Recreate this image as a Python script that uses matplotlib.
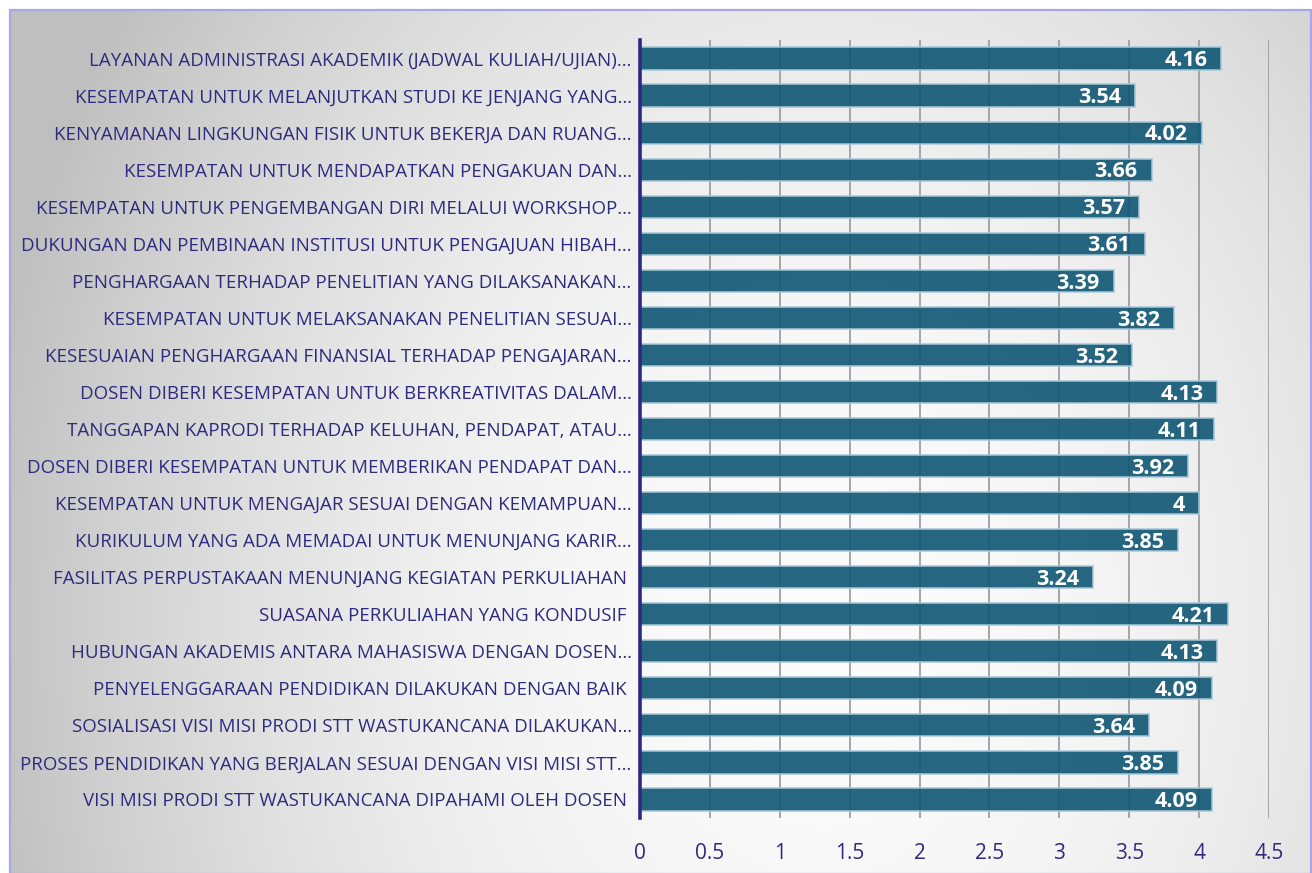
import matplotlib
matplotlib.use("Agg")
import matplotlib.pyplot as plt
import numpy as np
from matplotlib import font_manager as fm
from matplotlib.patches import Rectangle

categories = [
    "LAYANAN ADMINISTRASI AKADEMIK (JADWAL KULIAH/UJIAN)…",
    "KESEMPATAN UNTUK MELANJUTKAN STUDI KE JENJANG YANG…",
    "KENYAMANAN LINGKUNGAN FISIK UNTUK BEKERJA DAN RUANG…",
    "KESEMPATAN UNTUK MENDAPATKAN PENGAKUAN DAN…",
    "KESEMPATAN UNTUK PENGEMBANGAN DIRI MELALUI WORKSHOP…",
    "DUKUNGAN DAN PEMBINAAN INSTITUSI UNTUK PENGAJUAN HIBAH…",
    "PENGHARGAAN TERHADAP PENELITIAN YANG DILAKSANAKAN…",
    "KESEMPATAN UNTUK MELAKSANAKAN PENELITIAN SESUAI…",
    "KESESUAIAN PENGHARGAAN FINANSIAL TERHADAP PENGAJARAN…",
    "DOSEN DIBERI KESEMPATAN UNTUK BERKREATIVITAS DALAM…",
    "TANGGAPAN KAPRODI TERHADAP KELUHAN, PENDAPAT, ATAU…",
    "DOSEN DIBERI KESEMPATAN UNTUK MEMBERIKAN PENDAPAT DAN…",
    "KESEMPATAN UNTUK MENGAJAR SESUAI DENGAN KEMAMPUAN…",
    "KURIKULUM YANG ADA MEMADAI UNTUK MENUNJANG KARIR…",
    "FASILITAS PERPUSTAKAAN MENUNJANG KEGIATAN PERKULIAHAN ",
    "SUASANA PERKULIAHAN YANG KONDUSIF ",
    "HUBUNGAN AKADEMIS ANTARA MAHASISWA DENGAN DOSEN…",
    "PENYELENGGARAAN PENDIDIKAN DILAKUKAN DENGAN BAIK ",
    "SOSIALISASI VISI MISI PRODI STT WASTUKANCANA DILAKUKAN…",
    "PROSES PENDIDIKAN YANG BERJALAN SESUAI DENGAN VISI MISI STT…",
    "VISI MISI PRODI STT WASTUKANCANA DIPAHAMI OLEH DOSEN ",
]
values = [4.16, 3.54, 4.02, 3.66, 3.57, 3.61, 3.39, 3.82, 3.52, 4.13, 4.11,
          3.92, 4, 3.85, 3.24, 4.21, 4.13, 4.09, 3.64, 3.85, 4.09]
value_labels = ["4.16", "3.54", "4.02", "3.66", "3.57", "3.61", "3.39", "3.82",
                "3.52", "4.13", "4.11", "3.92", "4", "3.85", "3.24", "4.21",
                "4.13", "4.09", "3.64", "3.85", "4.09"]
xticks = [0, 0.5, 1, 1.5, 2, 2.5, 3, 3.5, 4, 4.5]
xtick_labels = ["0", "0.5", "1", "1.5", "2", "2.5", "3", "3.5", "4", "4.5"]

avail = {f.name for f in fm.fontManager.ttflist}
fam = "Liberation Sans Narrow" if "Liberation Sans Narrow" in avail else "Open Sans"
plt.rcParams['font.family'] = [fam, 'DejaVu Sans']

W, H = 1312, 873
fig = plt.figure(figsize=(W / 100, H / 100), dpi=100)

# background gradient
bg = fig.add_axes([0, 0, 1, 1], zorder=-10)
bg.set_xlim(0, W)
bg.set_ylim(H, 0)
bg.axis("off")
xx, yy = np.meshgrid(np.linspace(0, W, 400), np.linspace(0, H, 300))
cx, cy = 820, 620
d2 = ((xx - cx) / 850) ** 2 + ((yy - cy) / 1100) ** 2
v = 0.985 - 0.23 * d2
v = np.clip(v, 0.75, 1)
img = np.dstack([v, v, v])
bg.imshow(img, extent=[10, W, H, 10], aspect="auto", zorder=0)
bg.add_patch(Rectangle((10, 10), W - 11, H - 9, fill=False,
                       edgecolor="#AAA6E2", lw=1.6, zorder=2))

ax = fig.add_axes([640 / W, 1 - 818 / H, 629 / W, 778 / H])
ax.patch.set_alpha(0)
n = len(categories)
ypos = np.arange(n)
ax.barh(ypos, values, height=0.6, color="#0F5674", alpha=0.9,
        edgecolor="#A8C8D8", linewidth=1.2, zorder=3)
ax.set_ylim(n - 0.5, -0.5)
ax.set_xlim(0, 4.5)
ax.set_yticks(ypos)
ax.set_yticklabels(categories, fontsize=13.5, color="#2E2A7E")
ax.set_xticks(xticks)
ax.set_xticklabels(xtick_labels, fontsize=15, color="#2E2A7E")
ax.tick_params(axis="y", length=0, pad=6)
ax.tick_params(axis="x", length=0, pad=18)
ax.grid(axis="x", color="#9E9EA8", lw=1.3, zorder=1)
ax.set_axisbelow(True)
for s in ["top", "right", "bottom"]:
    ax.spines[s].set_visible(False)
ax.spines["left"].set_color("#2B2A7C")
ax.spines["left"].set_linewidth(2.6)
ax.spines["left"].set_zorder(5)

for y, val, lab in zip(ypos, values, value_labels):
    ax.text(val - 0.1, y + 0.06, lab, ha="right", va="center", color="white",
            fontsize=15.5, fontweight="bold", zorder=4)

fig.savefig("out.png", dpi=100)
